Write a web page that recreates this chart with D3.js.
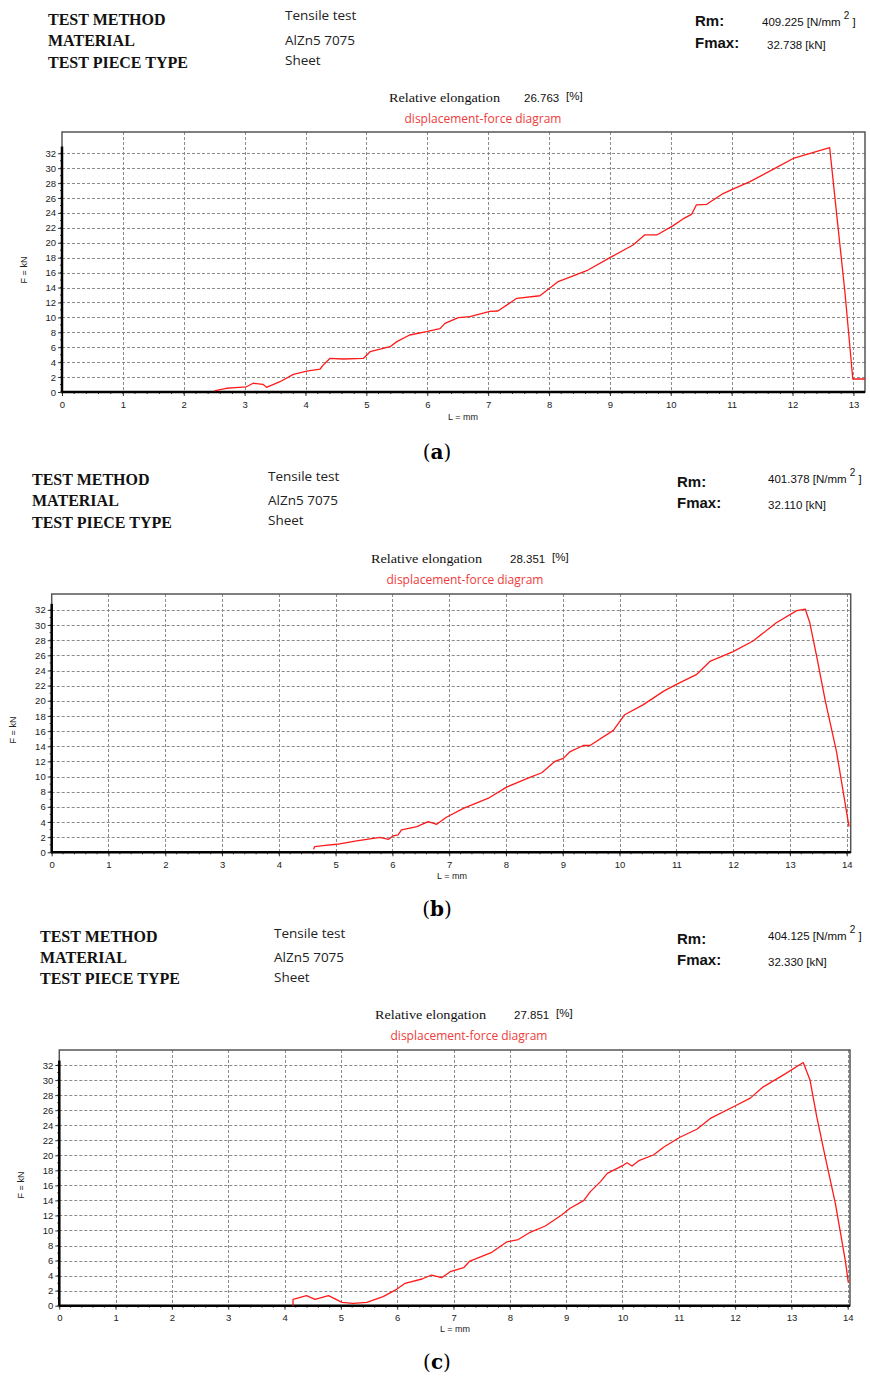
<!DOCTYPE html>
<html>
<head>
<meta charset="utf-8">
<script src="https://cdn.jsdelivr.net/npm/d3@7"></script>
<style>
  html, body { margin: 0; padding: 0; background: #fff; }
  svg { display: block; }
</style>
</head>
<body>
<svg id="chart" width="870" height="1376"></svg>
<script>
// ---------------- DATA ----------------
const panelLetters = ["a", "b", "c"];
const testMethod = "Tensile test";
const material = "AlZn5 7075";
const pieceType = "Sheet";
const rmValues = ["409.225", "401.378", "404.125"];
const fmaxValues = ["32.738", "32.110", "32.330"];
const elongValues = ["26.763", "28.351", "27.851"];
const yTicks = [0, 2, 4, 6, 8, 10, 12, 14, 16, 18, 20, 22, 24, 26, 28, 30, 32];
const xTicksA = [0, 1, 2, 3, 4, 5, 6, 7, 8, 9, 10, 11, 12, 13];
const xTicksB = [0, 1, 2, 3, 4, 5, 6, 7, 8, 9, 10, 11, 12, 13, 14];
const xTicksC = [0, 1, 2, 3, 4, 5, 6, 7, 8, 9, 10, 11, 12, 13, 14];

// Curve (a): displacement L [mm], force F [kN]
const curveA_L = [2.50, 2.70, 2.85, 3.03, 3.14, 3.30, 3.36, 3.58, 3.80, 4.02, 4.24, 4.29, 4.40, 4.62, 4.95, 5.06,
  5.39, 5.50, 5.71, 5.99, 6.04, 6.21, 6.29, 6.51, 6.70, 7.03, 7.16, 7.47, 7.85, 8.01, 8.15, 8.62, 9.03, 9.38,
  9.57, 9.77, 10.04, 10.20, 10.34, 10.42, 10.59, 10.86, 11.02, 11.30, 11.74, 12.01, 12.61, 12.72, 12.86, 12.99, 13.19];
const curveA_F = [0.15, 0.50, 0.60, 0.70, 1.17, 1.03, 0.63, 1.38, 2.37, 2.80, 3.08, 3.60, 4.50, 4.42, 4.50, 5.40,
  6.07, 6.75, 7.64, 8.08, 8.18, 8.50, 9.20, 9.96, 10.10, 10.80, 10.86, 12.56, 12.90, 13.90, 14.80, 16.26, 18.14, 19.70,
  21.05, 21.05, 22.30, 23.20, 23.80, 25.07, 25.16, 26.60, 27.20, 28.20, 30.10, 31.30, 32.74, 24.17, 13.40, 1.74, 1.74];

// Curve (b)
const curveB_L = [4.61, 4.63, 4.78, 5.02, 5.37, 5.78, 5.93, 6.01, 6.10, 6.16, 6.43, 6.63, 6.78, 6.95, 7.25, 7.69,
  8.01, 8.42, 8.63, 8.86, 9.01, 9.13, 9.36, 9.48, 9.89, 10.09, 10.42, 10.77, 11.01, 11.36, 11.59, 12.00, 12.35,
  12.76, 13.12, 13.27, 13.35, 13.47, 13.62, 13.82, 14.04];
const curveB_F = [0.40, 0.74, 0.87, 1.06, 1.50, 1.98, 1.72, 2.16, 2.29, 2.95, 3.39, 4.05, 3.70, 4.63, 5.80, 7.14,
  8.60, 9.90, 10.50, 12.00, 12.40, 13.30, 14.10, 14.10, 16.10, 18.16, 19.50, 21.25, 22.20, 23.50, 25.20, 26.50, 27.90,
  30.30, 31.90, 32.11, 30.30, 25.90, 20.10, 13.30, 3.40];

// Curve (c)
const curveC_L = [4.15, 4.15, 4.39, 4.54, 4.78, 5.02, 5.22, 5.46, 5.75, 5.99, 6.14, 6.44, 6.61, 6.79, 6.94, 7.18,
  7.29, 7.68, 7.95, 8.15, 8.36, 8.63, 8.92, 9.07, 9.31, 9.43, 9.61, 9.73, 10.02, 10.08, 10.17, 10.29, 10.55, 10.73,
  11.02, 11.32, 11.56, 11.97, 12.27, 12.50, 12.86, 13.21, 13.33, 13.45, 13.60, 13.78, 13.96, 14.01];
const curveC_F = [0.00, 0.85, 1.33, 0.85, 1.33, 0.45, 0.32, 0.45, 1.20, 2.18, 2.98, 3.55, 4.08, 3.72, 4.52, 5.05,
  5.94, 7.10, 8.50, 8.80, 9.76, 10.60, 12.06, 12.95, 13.97, 15.17, 16.50, 17.60, 18.70, 19.00, 18.58, 19.28, 20.04, 21.06,
  22.40, 23.46, 24.90, 26.46, 27.60, 29.10, 30.70, 32.33, 30.00, 25.10, 19.80, 13.60, 5.85, 3.06];

// ---------------- LAYOUT ----------------
const layout = [
  { box: { x0: 62, x1: 865, y0: 132, y1: 392 }, xMax: 13.19, yMax: 34.85, axisTop: 32.9,
    hdrX: 48, valX: 285, rmX: 695, rmNumX: 762, fmNumX: 767, relX: 389, relNumX: 524, pctX: 566, dispCx: 483,
    y: { l1: 25, l2: 46, l3: 67.5, v1: 20, v2: 45, v3: 65, rm: 26, rmNum: 26, fm: 48, fmNum: 49, rel: 102, disp: 123 },
    fLabel: { x: 27, y: 270 }, lLabel: { x: 448, y: 420 }, letterY: 459, L: curveA_L, F: curveA_F, xt: xTicksA },
  { box: { x0: 51.7, x1: 850.7, y0: 594, y1: 852.3 }, xMax: 14.07, yMax: 34.1, axisTop: 32.8,
    hdrX: 32, valX: 268, rmX: 677, rmNumX: 768, fmNumX: 768, relX: 371, relNumX: 510, pctX: 552, dispCx: 465,
    y: { l1: 485, l2: 506, l3: 528, v1: 481, v2: 505, v3: 525, rm: 487, rmNum: 483, fm: 508, fmNum: 509, rel: 563, disp: 584 },
    fLabel: { x: 16, y: 730 }, lLabel: { x: 437, y: 879 }, letterY: 916, L: curveB_L, F: curveB_F, xt: xTicksB },
  { box: { x0: 59.3, x1: 850, y0: 1050, y1: 1305.7 }, xMax: 14.04, yMax: 34.0, axisTop: 32.6,
    hdrX: 40, valX: 274, rmX: 677, rmNumX: 768, fmNumX: 768, relX: 375, relNumX: 514, pctX: 556, dispCx: 469,
    y: { l1: 942, l2: 963, l3: 984, v1: 938, v2: 962, v3: 982, rm: 944, rmNum: 940, fm: 965, fmNum: 966, rel: 1019, disp: 1040 },
    fLabel: { x: 24, y: 1185 }, lLabel: { x: 440, y: 1332 }, letterY: 1369, L: curveC_L, F: curveC_F, xt: xTicksC }
];

const svg = d3.select("#chart");
const SERIF = "'Liberation Serif', 'Times New Roman', serif";
const SANS = "'Open Sans', 'Noto Sans', sans-serif";
const NARROW = "'Liberation Sans Narrow', 'Arial Narrow', 'Liberation Sans', sans-serif";
const TICK = "'Liberation Sans', Arial, sans-serif";

layout.forEach((p, i) => {
  const g = svg.append("g");
  const b = p.box;
  const x = d3.scaleLinear().domain([0, p.xMax]).range([b.x0, b.x1]);
  const y = d3.scaleLinear().domain([0, p.yMax]).range([b.y1, b.y0]);

  // ---- header ----
  const hdr = [["TEST METHOD", p.y.l1], ["MATERIAL", p.y.l2], ["TEST PIECE TYPE", p.y.l3]];
  hdr.forEach(([t, yy]) => g.append("text").attr("x", p.hdrX).attr("y", yy)
    .attr("font-family", SERIF).attr("font-weight", "bold").attr("font-size", 16).attr("fill", "#111").text(t));
  const vals = [[testMethod, p.y.v1], [material, p.y.v2], [pieceType, p.y.v3]];
  vals.forEach(([t, yy]) => g.append("text").attr("x", p.valX).attr("y", yy)
    .attr("font-family", SANS).attr("font-size", 13.5).attr("fill", "#222").text(t));

  g.append("text").attr("x", p.rmX).attr("y", p.y.rm).attr("font-family", NARROW).attr("font-weight", "bold")
    .attr("font-size", 15).attr("fill", "#111").text("Rm:");
  g.append("text").attr("x", p.rmX).attr("y", p.y.fm).attr("font-family", NARROW).attr("font-weight", "bold")
    .attr("font-size", 15).attr("fill", "#111").text("Fmax:");

  const rm = g.append("text").attr("x", p.rmNumX).attr("y", p.y.rmNum).attr("font-family", NARROW)
    .attr("font-size", 11.5).attr("fill", "#111");
  rm.append("tspan").text(rmValues[i] + "  [N/mm ");
  rm.append("tspan").attr("dy", -7).attr("font-size", 10).text("2");
  rm.append("tspan").attr("dy", 7).text(" ]");

  g.append("text").attr("x", p.fmNumX).attr("y", p.y.fmNum).attr("font-family", NARROW)
    .attr("font-size", 11.5).attr("fill", "#111").text(fmaxValues[i] + "  [kN]");

  g.append("text").attr("x", p.relX).attr("y", p.y.rel).attr("font-family", SERIF)
    .attr("font-size", 13.5).attr("fill", "#111").attr("textLength", 111).attr("lengthAdjust", "spacingAndGlyphs")
    .text("Relative elongation");
  g.append("text").attr("x", p.relNumX).attr("y", p.y.rel).attr("font-family", NARROW)
    .attr("font-size", 11.5).attr("fill", "#111").text(elongValues[i]);
  g.append("text").attr("x", p.pctX).attr("y", p.y.rel - 2).attr("font-family", NARROW)
    .attr("font-size", 11.5).attr("fill", "#111").text("[%]");

  g.append("text").attr("x", p.dispCx).attr("y", p.y.disp).attr("text-anchor", "middle")
    .attr("font-family", SANS).attr("font-size", 12).attr("fill", "#ee3b3b")
    .text("displacement-force diagram");

  // ---- grid ----
  const grid = g.append("g").attr("stroke", "#8a8a8a").attr("stroke-width", 1).attr("stroke-dasharray", "3,2");
  grid.selectAll("line.h").data(yTicks.filter(v => v > 0)).join("line")
    .attr("x1", b.x0).attr("x2", b.x1).attr("y1", d => Math.round(y(d)) + 0.5).attr("y2", d => Math.round(y(d)) + 0.5);
  grid.selectAll("line.v").data(p.xt.filter(v => v > 0)).join("line")
    .attr("y1", b.y0).attr("y2", b.y1).attr("x1", d => Math.round(x(d)) + 0.5).attr("x2", d => Math.round(x(d)) + 0.5);

  // ---- box ----
  g.append("rect").attr("x", b.x0).attr("y", b.y0).attr("width", b.x1 - b.x0).attr("height", b.y1 - b.y0)
    .attr("fill", "none").attr("stroke", "#555").attr("stroke-width", 1.5);

  // ---- axes ----
  const yAxis = d3.axisLeft(y).tickValues(yTicks).tickSize(4).tickFormat(d3.format("d"));
  const ya = g.append("g").attr("transform", `translate(${b.x0},0)`).call(yAxis);
  ya.select(".domain").remove();
  ya.selectAll("text").attr("font-family", TICK).attr("font-size", 9.5).attr("fill", "#222").attr("dx", "1");
  ya.selectAll("line").attr("stroke", "#333");
  // minor y ticks
  g.append("g").selectAll("line").data(d3.range(0, 33, 1)).join("line")
    .attr("x1", b.x0 - 2).attr("x2", b.x0).attr("y1", d => y(d)).attr("y2", d => y(d))
    .attr("stroke", "#333").attr("stroke-width", 1);

  const xAxis = d3.axisBottom(x).tickValues(p.xt).tickSize(4).tickFormat(d3.format("d"));
  const xa = g.append("g").attr("transform", `translate(0,${b.y1})`).call(xAxis);
  xa.select(".domain").remove();
  xa.selectAll("text").attr("font-family", TICK).attr("font-size", 9.5).attr("fill", "#222").attr("dy", "0.9em");
  xa.selectAll("line").attr("stroke", "#333");
  // minor x ticks
  g.append("g").selectAll("line").data(d3.range(0, Math.floor(p.xMax * 5) + 1).map(k => k / 5)).join("line")
    .attr("y1", b.y1).attr("y2", b.y1 + 2).attr("x1", d => x(d)).attr("x2", d => x(d))
    .attr("stroke", "#333").attr("stroke-width", 1);

  // thick axis lines
  g.append("line").attr("x1", b.x0).attr("x2", b.x0).attr("y1", b.y1).attr("y2", y(p.axisTop))
    .attr("stroke", "#000").attr("stroke-width", 2.5);
  g.append("line").attr("x1", b.x0).attr("x2", b.x1).attr("y1", b.y1).attr("y2", b.y1)
    .attr("stroke", "#000").attr("stroke-width", 2.5);

  // axis titles
  g.append("text").attr("transform", `translate(${p.fLabel.x},${p.fLabel.y}) rotate(-90)`)
    .attr("text-anchor", "middle").attr("font-family", TICK).attr("font-size", 9).attr("fill", "#222").text("F = kN");
  g.append("text").attr("x", p.lLabel.x).attr("y", p.lLabel.y)
    .attr("font-family", TICK).attr("font-size", 9).attr("fill", "#222").text("L = mm");

  // ---- curve ----
  const pts = p.L.map((v, k) => [v, p.F[k]]);
  g.append("path").datum(pts)
    .attr("d", d3.line().x(d => x(d[0])).y(d => y(d[1])))
    .attr("fill", "none").attr("stroke", "#ff1a1a").attr("stroke-width", 1.3).attr("stroke-linejoin", "round");

  // ---- panel letter ----
  const lt = g.append("text").attr("x", 437).attr("y", p.letterY).attr("text-anchor", "middle")
    .attr("font-family", "'Palatino Linotype', 'DejaVu Serif', 'Liberation Serif', serif").attr("font-size", 20).attr("fill", "#000");
  lt.append("tspan").text("(");
  lt.append("tspan").attr("font-weight", "bold").text(panelLetters[i]);
  lt.append("tspan").text(")");
});
</script>
</body>
</html>
